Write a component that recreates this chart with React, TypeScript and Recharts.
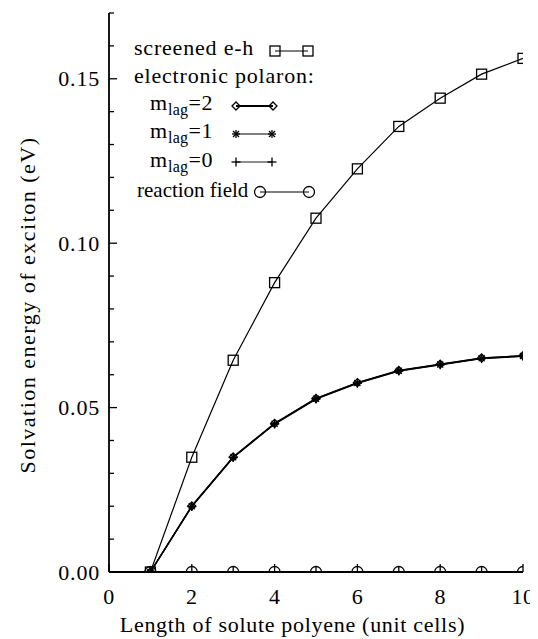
import React from 'react';
import { LineChart, Line, XAxis, YAxis, Legend } from 'recharts';

// ---- data ----
const cells = [1, 2, 3, 4, 5, 6, 7, 8, 9, 10];
const screenedEH = [0, 0.0349, 0.0644, 0.088, 0.1076, 0.1226, 0.1355, 0.1441, 0.1514, 0.1562];
const polaronM2 = [0, 0.0201, 0.0350, 0.0452, 0.0528, 0.0576, 0.0613, 0.0632, 0.0651, 0.0658];
const polaronM1 = [0, 0.0200, 0.0349, 0.0451, 0.0527, 0.0575, 0.0612, 0.0631, 0.0650, 0.0657];
const polaronM0 = [0, 0.0199, 0.0348, 0.0450, 0.0526, 0.0574, 0.0611, 0.0630, 0.0649, 0.0656];
const reactionField = [0, 0, 0, 0, 0, 0, 0, 0, 0, 0];

const xTicks = [0, 1, 2, 3, 4, 5, 6, 7, 8, 9, 10];
const xMajor = [0, 2, 4, 6, 8, 10];
const yTicks = [0, 0.01, 0.02, 0.03, 0.04, 0.05, 0.06, 0.07, 0.08, 0.09, 0.1, 0.11, 0.12, 0.13, 0.14, 0.15, 0.16, 0.17];
const yMajor = [0, 0.05, 0.1, 0.15];

const xTitle = 'Length of solute polyene (unit cells)';
const yTitle = 'Solvation energy of exciton (eV)';
const nameEH = 'screened e-h';
const namePolaron = 'electronic polaron:';
const nameM2 = '=2';
const nameM1 = '=1';
const nameM0 = '=0';
const nameRF = 'reaction field';

const data = cells.map((n, i) => ({
  n,
  eh: screenedEH[i],
  m2: polaronM2[i],
  m1: polaronM1[i],
  m0: polaronM0[i],
  rf: reactionField[i],
}));

const FONT = 'Liberation Serif';
const INK = '#000';

// ---- markers ----
const Square = ({ cx, cy }: any) => (
  <rect x={cx - 5} y={cy - 5} width={10} height={10} fill="none" stroke={INK} strokeWidth={1.3} />
);
const Circle = ({ cx, cy }: any) => (
  <circle cx={cx} cy={cy} r={5.5} fill="none" stroke={INK} strokeWidth={1.3} />
);
const Diamond = ({ cx, cy }: any) => (
  <path d={`M${cx - 4},${cy} L${cx},${cy - 4} L${cx + 4},${cy} L${cx},${cy + 4} Z`} fill="none" stroke={INK} strokeWidth={1.3} />
);
const Star = ({ cx, cy }: any) => (
  <g stroke={INK} strokeWidth={1.3}>
    <line x1={cx - 4} x2={cx + 4} y1={cy} y2={cy} />
    <line x1={cx} x2={cx} y1={cy - 4} y2={cy + 4} />
    <line x1={cx - 3} x2={cx + 3} y1={cy - 3} y2={cy + 3} />
    <line x1={cx - 3} x2={cx + 3} y1={cy + 3} y2={cy - 3} />
  </g>
);
const Plus = ({ cx, cy }: any) => (
  <g stroke={INK} strokeWidth={1.3}>
    <line x1={cx - 4.5} x2={cx + 4.5} y1={cy} y2={cy} />
    <line x1={cx} x2={cx} y1={cy - 4.5} y2={cy + 4.5} />
  </g>
);

const dotOf = (M: any) => (p: any) => <M key={`${p.dataKey}-${p.index}`} cx={p.cx} cy={p.cy} />;

// ---- text helper ----
const T = ({ children, size = 22, ls = 0.8, ...rest }: any) => (
  <text style={{ fontFamily: FONT }} fontSize={size} letterSpacing={ls} fill={INK} {...rest}>
    {children}
  </text>
);

const isMajorY = (v: number) => yMajor.some((m) => Math.abs(m - v) < 1e-9);

const BottomTick = ({ x, y, payload }: any) => {
  const v = payload.value;
  const major = xMajor.includes(v);
  return (
    <g>
      <line x1={x} x2={x} y1={y} y2={y - (major ? 8 : 5)} stroke={INK} strokeWidth={1.3} />
      {major && (
        <T x={x} y={y + 32} textAnchor="middle" ls={0.4}>
          {String(v)}
        </T>
      )}
    </g>
  );
};
const TopTick = ({ x, y, payload }: any) => {
  const major = xMajor.includes(payload.value);
  return <line x1={x} x2={x} y1={y} y2={y + (major ? 8 : 5)} stroke={INK} strokeWidth={1.3} />;
};
const LeftTick = ({ x, y, payload }: any) => {
  const v = payload.value;
  const major = isMajorY(v);
  return (
    <g>
      <line x1={x} x2={x + (major ? 8 : 5)} y1={y} y2={y} stroke={INK} strokeWidth={1.3} />
      {major && (
        <T x={x - 9} y={y} dy="0.35em" textAnchor="end">
          {v.toFixed(2)}
        </T>
      )}
    </g>
  );
};
const RightTick = ({ x, y, payload }: any) => {
  const major = isMajorY(payload.value);
  return <line x1={x} x2={x - (major ? 8 : 5)} y1={y} y2={y} stroke={INK} strokeWidth={1.3} />;
};

// ---- titles ----
const XTitle = () => (
  <T x={284.5} y={624} textAnchor="middle" ls={0.7}>
    {xTitle}
  </T>
);
const YTitle = () => (
  <T x={19} y={297} textAnchor="middle" dy="0.35em" transform="rotate(-90 19 297)" ls={1.5}>
    {yTitle}
  </T>
);

// ---- legend ----
const Sub = ({ x, y, suffix }: any) => (
  <T x={x} y={y}>
    m
    <tspan fontSize={16} dy={5} letterSpacing={0.3}>lag</tspan>
    <tspan dy={-5}>{suffix}</tspan>
  </T>
);

const Sample = ({ x1, x2, y, M, w = 1.2 }: any) => (
  <g>
    <line x1={x1} x2={x2} y1={y} y2={y} stroke={INK} strokeWidth={w} />
    <M cx={x1} cy={y} />
    <M cx={x2} cy={y} />
  </g>
);

const LegendBox = () => (
  <svg width={530} height={220} style={{ position: 'absolute', left: 0, top: 0 }}>
    <T x={126} y={47}>{nameEH}</T>
    <Sample x1={267} x2={300} y={43} M={Square} />
    <T x={126} y={75}>{namePolaron}</T>
    <Sub x={142} y={102} suffix={nameM2} />
    <Sample x1={228} x2={265} y={98} M={Diamond} w={1.8} />
    <Sub x={142} y={130} suffix={nameM1} />
    <Sample x1={228} x2={264} y={126} M={Star} />
    <Sub x={142} y={159} suffix={nameM0} />
    <Sample x1={228} x2={264} y={154} M={Plus} w={0.9} />
    <T x={129} y={189} size={21} ls={0}>{nameRF}</T>
    <Sample x1={252} x2={301} y={184} M={Circle} />
  </svg>
);

export default function App() {
  return (
    <>
      <style>{`.recharts-surface{overflow:visible}`}</style>
      <LineChart
        width={530}
        height={631}
        data={data}
        margin={{ top: 5, right: 15, bottom: 0, left: 0 }}
      >
        <XAxis
          xAxisId="b"
          dataKey="n"
          type="number"
          domain={[0, 10]}
          allowDataOverflow
          ticks={xTicks}
          interval={0}
          height={67}
          tickSize={0}
          tickMargin={0}
          tickLine={false}
          axisLine={{ stroke: INK, strokeWidth: 1.8 }}
          tick={<BottomTick />}
          label={<XTitle />}
        />
        <XAxis
          xAxisId="t"
          orientation="top"
          dataKey="n"
          type="number"
          domain={[0, 10]}
          allowDataOverflow
          ticks={xTicks}
          interval={0}
          height={0}
          tickSize={0}
          tickMargin={0}
          tickLine={false}
          axisLine={{ stroke: INK, strokeWidth: 1.8 }}
          tick={<TopTick />}
        />
        <YAxis
          yAxisId="l"
          type="number"
          domain={[0, 0.17]}
          allowDataOverflow
          ticks={yTicks}
          interval={0}
          width={101}
          tickSize={0}
          tickMargin={0}
          tickLine={false}
          axisLine={{ stroke: INK, strokeWidth: 1.8 }}
          tick={<LeftTick />}
          label={<YTitle />}
        />
        <YAxis
          yAxisId="r"
          orientation="right"
          type="number"
          domain={[0, 0.17]}
          allowDataOverflow
          ticks={yTicks}
          interval={0}
          width={0}
          tickSize={0}
          tickMargin={0}
          tickLine={false}
          axisLine={{ stroke: INK, strokeWidth: 1.8 }}
          tick={<RightTick />}
        />
        <Line xAxisId="b" yAxisId="l" dataKey="rf" stroke={INK} strokeWidth={1.2} dot={dotOf(Circle)} isAnimationActive={false} />
        <Line xAxisId="b" yAxisId="l" dataKey="m0" stroke={INK} strokeWidth={1.4} dot={dotOf(Plus)} isAnimationActive={false} />
        <Line xAxisId="b" yAxisId="l" dataKey="m1" stroke={INK} strokeWidth={1.4} dot={dotOf(Star)} isAnimationActive={false} />
        <Line xAxisId="b" yAxisId="l" dataKey="m2" stroke={INK} strokeWidth={1.4} dot={dotOf(Diamond)} isAnimationActive={false} />
        <Line xAxisId="b" yAxisId="l" dataKey="eh" stroke={INK} strokeWidth={1.2} dot={dotOf(Square)} isAnimationActive={false} />
        <Legend
          verticalAlign="middle"
          align="center"
          layout="horizontal"
          content={() => <LegendBox />}
          wrapperStyle={{ position: 'absolute', left: 0, top: 0, width: 530, height: 220, pointerEvents: 'none' }}
        />
      </LineChart>
    </>
  );
}
